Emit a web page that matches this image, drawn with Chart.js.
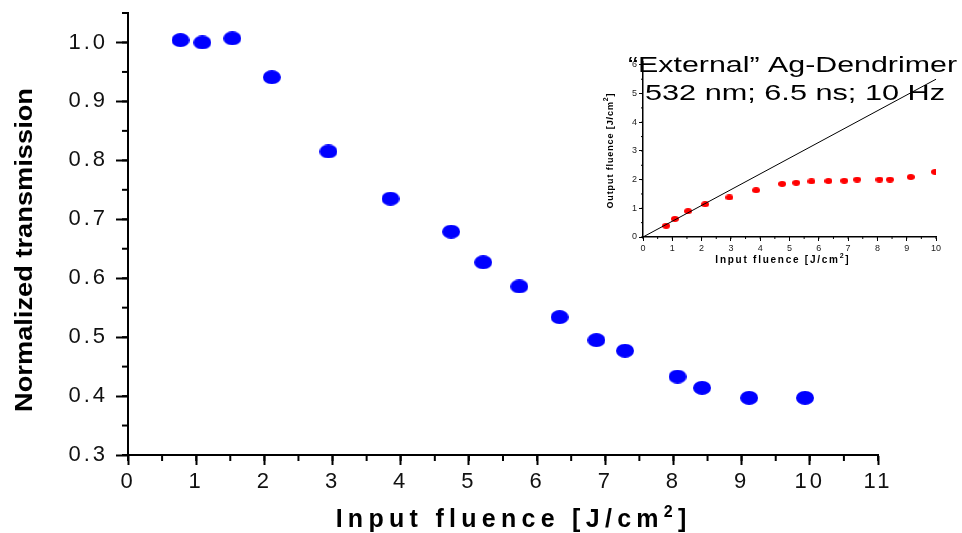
<!DOCTYPE html>
<html>
<head>
<meta charset="utf-8">
<script src="https://cdn.jsdelivr.net/npm/chart.js@4.4.1/dist/chart.umd.min.js"></script>
<style>
  body { margin: 0; background: #fff; }
  #wrap { position: relative; width: 962px; height: 533px; }
  #main { position: absolute; left: 0; top: 0; }
  #inset { position: absolute; left: 590px; top: 40px; }
</style>
</head>
<body>
<div id="wrap">
  <canvas id="main" width="962" height="533"></canvas>
  <canvas id="inset" width="372" height="240"></canvas>
</div>
<script>
// ============================================
// DATA
// ============================================
const inputFluence = [0.77, 1.09, 1.53, 2.11, 2.94, 3.85, 4.74, 5.21, 5.74, 6.33, 6.87, 7.29, 8.06, 8.42, 9.11, 9.93];
const transmission = [1.004, 1.0, 1.007, 0.941, 0.815, 0.735, 0.679, 0.627, 0.586, 0.534, 0.495, 0.477, 0.433, 0.414, 0.397, 0.397];

const insetInput  = [0.79, 1.09, 1.54, 2.12, 2.95, 3.86, 4.75, 5.23, 5.75, 6.33, 6.87, 7.31, 8.07, 8.43, 9.14, 9.97];
const insetOutput = [0.39, 0.63, 0.90, 1.14, 1.38, 1.63, 1.85, 1.89, 1.94, 1.95, 1.96, 2.00, 2.00, 2.00, 2.09, 2.27];
const refLineX = [0, 10];
const refLineY = [0, 5.5];

const mainXTicks  = [0, 1, 2, 3, 4, 5, 6, 7, 8, 9, 10, 11];
const mainYTicks  = [0.3, 0.4, 0.5, 0.6, 0.7, 0.8, 0.9, 1.0];
const insetXTicks = [0, 1, 2, 3, 4, 5, 6, 7, 8, 9, 10];
const insetYTicks = [0, 1, 2, 3, 4, 5, 6];

const FONT = "'Liberation Sans', Arial, sans-serif";

// --- helpers ---
function ellipseMarker(w, h, color) {
    const c = document.createElement('canvas');
    c.width = w; c.height = h;
    const g = c.getContext('2d');
    g.fillStyle = color;
    g.beginPath();
    g.ellipse(w / 2, h / 2, w / 2, h / 2, 0, 0, Math.PI * 2);
    g.fill();
    return c;
}

const toPoints = (xs, ys) => xs.map((x, i) => ({ x, y: ys[i] }));

// text with a raised "2" (cm²), centred on cx, letter-spaced to fill `width`
function drawUnitText(ctx, parts, cx, y, font, supFont, width, rise) {
    ctx.letterSpacing = '0px';
    ctx.font = font;
    let natural = ctx.measureText(parts[0]).width + ctx.measureText(parts[2]).width;
    ctx.font = supFont;
    natural += ctx.measureText(parts[1]).width;
    const nChars = parts.join('').length;
    const sp = Math.max(0, (width - natural) / nChars);
    ctx.letterSpacing = sp + 'px';

    ctx.font = font;
    const w1 = ctx.measureText(parts[0]).width;
    const w3 = ctx.measureText(parts[2]).width;
    ctx.font = supFont;
    const w2 = ctx.measureText(parts[1]).width;
    let x = cx - (w1 + w2 + w3 - sp) / 2;
    ctx.textAlign = 'left';
    ctx.textBaseline = 'alphabetic';
    ctx.font = font;    ctx.fillText(parts[0], x, y);        x += w1;
    ctx.font = supFont; ctx.fillText(parts[1], x, y - rise); x += w2;
    ctx.font = font;    ctx.fillText(parts[2], x, y);
}

// plain text stretched horizontally to `width`, starting at x (or centred)
function drawStretched(ctx, text, x, y, font, width, centred) {
    ctx.save();
    ctx.letterSpacing = '0px';
    ctx.font = font;
    const w = ctx.measureText(text).width;
    ctx.translate(centred ? x - width / 2 : x, y);
    ctx.scale(width / w, 1);
    ctx.textAlign = 'left';
    ctx.textBaseline = 'alphabetic';
    ctx.fillText(text, 0, 0);
    ctx.restore();
}

// minor ticks + tick label spacing
const tickExtras = {
    id: 'tickExtras',
    beforeDraw(chart, args, o) {
        chart.ctx.letterSpacing = o.spacing || '0px';
    },
    afterDraw(chart, args, o) {
        const ctx = chart.ctx;
        ctx.save();
        ctx.strokeStyle = '#000';
        ctx.lineWidth = o.width;
        const xs = chart.scales.x, ys = chart.scales.y;
        const n = Math.round((xs.max - xs.min) / o.xStep);
        for (let i = 0; i <= n; i++) {
            const px = xs.getPixelForValue(xs.min + i * o.xStep);
            ctx.beginPath();
            ctx.moveTo(px, ys.bottom);
            ctx.lineTo(px, ys.bottom + o.xLen);
            ctx.stroke();
        }
        const m = Math.round((ys.max - ys.min) / o.yStep);
        for (let i = 0; i <= m; i++) {
            const py = ys.getPixelForValue(ys.min + i * o.yStep);
            ctx.beginPath();
            ctx.moveTo(xs.left, py);
            ctx.lineTo(xs.left - o.yLen, py);
            ctx.stroke();
        }
        ctx.restore();
    }
};

const noEdgePad = s => { s.paddingTop = 0; s.paddingBottom = 0; s.paddingLeft = 0; s.paddingRight = 0; };

// ============================================
// MAIN CHART
// ============================================
const mainTitles = {
    id: 'mainTitles',
    afterDraw(chart) {
        const ctx = chart.ctx;
        ctx.save();
        ctx.fillStyle = '#000';
        ctx.translate(32, 250);
        ctx.rotate(-Math.PI / 2);
        drawStretched(ctx, 'Normalized transmission', 0, 0, `bold 24px ${FONT}`, 324, true);
        ctx.restore();

        ctx.save();
        ctx.fillStyle = '#000';
        drawUnitText(ctx, ['Input fluence [J/cm', '2', ']'], 511, 527,
            `bold 25px ${FONT}`, `bold 16px ${FONT}`, 356, 10);
        ctx.restore();
    }
};

new Chart(document.getElementById('main'), {
    type: 'scatter',
    data: {
        datasets: [{
            data: toPoints(inputFluence, transmission),
            pointStyle: ellipseMarker(18, 14, '#0000ff'),
            backgroundColor: '#0000ff',
        }],
    },
    options: {
        responsive: false,
        animation: false,
        events: [],
        layout: { padding: { left: 0, top: 13, right: 84, bottom: 0 } },
        plugins: {
            legend: { display: false },
            tooltip: { enabled: false },
            tickExtras: { spacing: '3px', width: 2, xStep: 0.5, xLen: 6, yStep: 0.05, yLen: 6 },
        },
        scales: {
            x: {
                type: 'linear',
                min: 0, max: 11,
                afterBuildTicks: s => { s.ticks = mainXTicks.map(v => ({ value: v })); },
                afterFit: s => { s.height = 78; noEdgePad(s); },
                border: { color: '#000', width: 2 },
                grid: { drawOnChartArea: false, tickLength: 10, tickWidth: 2, tickColor: '#000' },
                ticks: { color: '#111', padding: 4, font: { family: FONT, size: 22 } },
            },
            y: {
                type: 'linear',
                min: 0.3, max: 1.05,
                afterBuildTicks: s => { s.ticks = mainYTicks.map(v => ({ value: v })); },
                afterFit: s => { s.width = 128; noEdgePad(s); },
                border: { color: '#000', width: 2 },
                grid: { drawOnChartArea: false, tickLength: 12, tickWidth: 2, tickColor: '#000' },
                ticks: {
                    color: '#111', padding: 8,
                    font: { family: FONT, size: 22 },
                    callback: v => v.toFixed(1),
                },
            },
        },
    },
    plugins: [tickExtras, mainTitles],
});

// ============================================
// INSET CHART
// ============================================
const insetTitles = {
    id: 'insetTitles',
    afterDraw(chart) {
        const ctx = chart.ctx;
        ctx.save();
        ctx.fillStyle = '#000';
        ctx.translate(23, 111);
        ctx.rotate(-Math.PI / 2);
        drawUnitText(ctx, ['Output fluence [J/cm', '2', ']'], 0, 0,
            `bold 9px ${FONT}`, `bold 7px ${FONT}`, 116, 5);
        ctx.restore();

        ctx.save();
        ctx.fillStyle = '#000';
        drawUnitText(ctx, ['Input fluence [J/cm', '2', ']'], 192, 223,
            `bold 10px ${FONT}`, `bold 7px ${FONT}`, 135, 5);
        ctx.restore();

        ctx.save();
        ctx.fillStyle = '#000';
        drawStretched(ctx, '\u201CExternal\u201D Ag-Dendrimer', 38, 32, `22px ${FONT}`, 329, false);
        drawStretched(ctx, '532 nm; 6.5 ns; 10 Hz', 55, 60, `22px ${FONT}`, 300, false);
        ctx.restore();
    }
};

new Chart(document.getElementById('inset'), {
    type: 'scatter',
    data: {
        datasets: [
            {
                data: toPoints(refLineX, refLineY),
                showLine: true,
                borderColor: '#000',
                borderWidth: 1,
                pointRadius: 0,
            },
            {
                data: toPoints(insetInput, insetOutput),
                pointStyle: ellipseMarker(8, 6, '#ff0000'),
                backgroundColor: '#ff0000',
            },
        ],
    },
    options: {
        responsive: false,
        animation: false,
        events: [],
        layout: { padding: { left: 0, top: 22, right: 26, bottom: 0 } },
        plugins: {
            legend: { display: false },
            tooltip: { enabled: false },
            tickExtras: { spacing: '0px', width: 1, xStep: 0.5, xLen: 2, yStep: 0.5, yLen: 2 },
        },
        scales: {
            x: {
                type: 'linear',
                min: 0, max: 10,
                afterBuildTicks: s => { s.ticks = insetXTicks.map(v => ({ value: v })); },
                afterFit: s => { s.height = 43; noEdgePad(s); },
                border: { color: '#000', width: 1.5 },
                grid: { drawOnChartArea: false, tickLength: 4, tickWidth: 1, tickColor: '#000' },
                ticks: { color: '#222', padding: 2, font: { family: FONT, size: 9 } },
            },
            y: {
                type: 'linear',
                min: 0, max: 6.1,
                afterBuildTicks: s => { s.ticks = insetYTicks.map(v => ({ value: v })); },
                afterFit: s => { s.width = 53; noEdgePad(s); },
                border: { color: '#000', width: 1.5 },
                grid: { drawOnChartArea: false, tickLength: 4, tickWidth: 1, tickColor: '#000' },
                ticks: { color: '#222', padding: 2, font: { family: FONT, size: 9 } },
            },
        },
    },
    plugins: [tickExtras, insetTitles],
});
</script>
</body>
</html>
